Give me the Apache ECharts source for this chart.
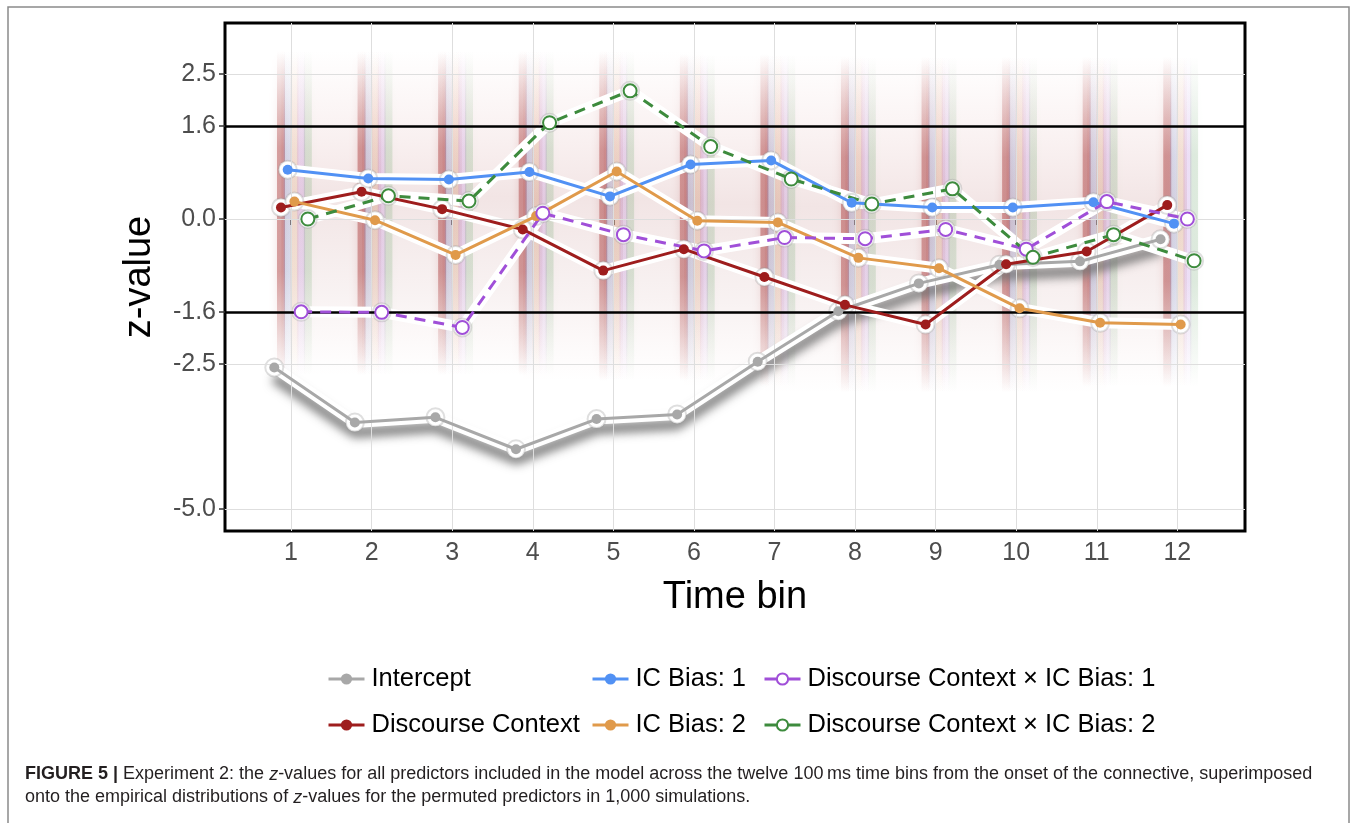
<!DOCTYPE html>
<html>
<head>
<meta charset="utf-8">
<script src="https://cdn.jsdelivr.net/npm/echarts@6/dist/echarts.min.js"></script>
<style>
html, body { margin: 0; padding: 0; background: #fff; }
#main { width: 1357px; height: 823px; }
</style>
</head>
<body>
<div id="main"></div>
<script>
// time bins and z-values
const bins = [1, 2, 3, 4, 5, 6, 7, 8, 9, 10, 11, 12]
const intercept = [-2.56, -3.51, -3.42, -3.97, -3.45, -3.37, -2.46, -1.59, -1.11, -0.79, -0.73, -0.35]
const discourseContext = [0.2, 0.47, 0.17, -0.18, -0.89, -0.52, -1.0, -1.48, -1.82, -0.78, -0.56, 0.24]
const icBias1 = [0.85, 0.7, 0.68, 0.81, 0.39, 0.94, 1.01, 0.28, 0.2, 0.2, 0.29, -0.08]
const icBias2 = [0.3, -0.02, -0.62, 0.05, 0.82, -0.03, -0.06, -0.67, -0.85, -1.54, -1.79, -1.82]
const dcXic1 = [-1.6, -1.61, -1.87, 0.1, -0.27, -0.55, -0.32, -0.34, -0.18, -0.52, 0.3, 0.0]
const dcXic2 = [0.0, 0.4, 0.31, 1.66, 2.21, 1.25, 0.69, 0.26, 0.52, -0.66, -0.27, -0.72]

// rough spread of the permuted z-values in each bin
const simHigh = [2.9, 2.9, 2.9, 2.9, 2.9, 2.85, 2.85, 2.8, 2.8, 2.8, 2.8, 2.8]
const simLow = [-2.7, -2.7, -2.7, -2.7, -2.8, -2.8, -2.9, -3.0, -3.0, -3.0, -2.9, -2.9]

const yTicks = [-5, -2.5, -1.6, 0, 1.6, 2.5]
const critical = [-1.6, 1.6]

const predictors = [
  { name: 'Intercept', values: intercept, color: '#a8a8a8', dashed: false },
  { name: 'Discourse Context', values: discourseContext, color: '#9e1d1d', dashed: false },
  { name: 'IC Bias: 1', values: icBias1, color: '#5191f4', dashed: false },
  { name: 'IC Bias: 2', values: icBias2, color: '#e09a4b', dashed: false },
  { name: 'Discourse Context × IC Bias: 1', values: dcXic1, color: '#a04fd8', dashed: true },
  { name: 'Discourse Context × IC Bias: 2', values: dcXic2, color: '#3d8b3d', dashed: true }
]

// same as position_dodge(0.5) for six groups
const dodge = i => (i - 2.5) * 0.5 / 6

const font = 'Liberation Sans, Arial, sans-serif'
const chart = echarts.init(document.getElementById('main'))

const series = []

// light grid
series.push({
  type: 'line',
  data: [],
  silent: true,
  z: 1,
  markLine: {
    silent: true,
    symbol: 'none',
    label: { show: false },
    lineStyle: { color: '#dedede', width: 1, type: 'solid' },
    data: bins.map(b => ({ xAxis: b })).concat(
      yTicks.filter(v => critical.indexOf(v) < 0).map(v => ({ yAxis: v })))
  }
})

// simulation haze: broad pale band + soft stripes per predictor
const hazeData = []
bins.forEach((b, k) => {
  predictors.forEach((p, i) => {
    if (i === 0) return
    hazeData.push([b + dodge(i), simLow[k], simHigh[k], i])
  })
})
series.push({
  type: 'custom',
  silent: true,
  z: 2,
  data: bins.slice(0, 11).map((b, k) => [b, simLow[k], simHigh[k], k]),
  renderItem: function (params, api) {
    const x0 = api.value(0)
    const k = api.value(3)
    const a = api.coord([x0 - 0.12, Math.max(simHigh[k], simHigh[k + 1])])
    const c = api.coord([x0 + 1.12, Math.min(simLow[k], simLow[k + 1])])
    return {
      type: 'rect',
      shape: { x: a[0], y: a[1], width: c[0] - a[0], height: c[1] - a[1] },
      style: {
        fill: new echarts.graphic.LinearGradient(0, 0, 0, 1, [
          { offset: 0, color: 'rgba(220,150,150,0)' },
          { offset: 0.2, color: 'rgba(215,150,150,0.10)' },
          { offset: 0.45, color: 'rgba(195,135,135,0.22)' },
          { offset: 0.75, color: 'rgba(200,150,150,0.12)' },
          { offset: 1, color: 'rgba(220,160,160,0)' }
        ])
      }
    }
  }
})
series.push({
  type: 'custom',
  silent: true,
  z: 2,
  data: hazeData,
  renderItem: function (params, api) {
    const top = api.coord([api.value(0), api.value(2)])
    const bot = api.coord([api.value(0), api.value(1)])
    const p = predictors[api.value(3)]
    const strong = p.name === 'Discourse Context'
    const c = echarts.color.modifyAlpha(p.color, strong ? 0.38 : 0.16)
    const c0 = echarts.color.modifyAlpha(p.color, 0)
    return {
      type: 'rect',
      shape: { x: top[0] - 4, y: top[1], width: 8, height: bot[1] - top[1] },
      style: {
        fill: new echarts.graphic.LinearGradient(0, 0, 0, 1, [
          { offset: 0, color: c0 },
          { offset: 0.3, color: c },
          { offset: 0.68, color: c },
          { offset: 1, color: c0 }
        ]),
        shadowColor: c,
        shadowBlur: 8
      }
    }
  }
})

// critical lines at +-1.6
series.push({
  type: 'line',
  data: [],
  silent: true,
  z: 3,
  markLine: {
    silent: true,
    symbol: 'none',
    label: { show: false },
    lineStyle: { color: '#000', width: 2.5, type: 'solid' },
    data: critical.map(v => ({ yAxis: v }))
  }
})

// white halos underneath
predictors.forEach((p, i) => {
  const isIntercept = i === 0
  series.push({
    name: p.name + ' halo',
    type: 'line',
    silent: true,
    z: 4,
    data: p.values.map((v, k) => [bins[k] + dodge(i), v]),
    symbol: 'circle',
    symbolSize: 18,
    itemStyle: { color: '#fff', borderColor: 'rgba(150,150,150,0.3)', borderWidth: 2 },
    lineStyle: isIntercept
      ? { color: '#fff', width: 11, shadowColor: 'rgba(110,110,110,0.85)', shadowBlur: 10, shadowOffsetY: 10 }
      : { color: '#fff', width: 11 },
    emphasis: { disabled: true }
  })
})

// the predictors themselves
predictors.forEach((p, i) => {
  series.push({
    name: p.name,
    type: 'line',
    z: 5,
    data: p.values.map((v, k) => [bins[k] + dodge(i), v]),
    symbol: p.dashed ? 'emptyCircle' : 'circle',
    symbolSize: p.dashed ? 13 : 10,
    showAllSymbol: true,
    itemStyle: p.dashed
      ? { color: p.color, borderColor: p.color, borderWidth: 2 }
      : { color: p.color },
    lineStyle: { color: p.color, width: 3, type: p.dashed ? [11, 8] : 'solid' },
    emphasis: { disabled: true }
  })
})

function legendCol (names, left) {
  return {
    data: names,
    orient: 'vertical',
    left: left,
    top: 661,
    itemGap: 20,
    itemWidth: 36,
    itemHeight: 14,
    selectedMode: false,
    lineStyle: { type: 'solid', width: 3 },
    textStyle: { fontSize: 25.5, color: '#000', fontFamily: font, padding: [0, 0, 0, 2] }
  }
}

chart.setOption({
  animation: false,
  backgroundColor: '#fff',
  grid: {
    left: 225, top: 23, right: 112, bottom: 292,
    show: true, borderColor: '#000', borderWidth: 3, backgroundColor: 'transparent'
  },
  xAxis: {
    type: 'value',
    min: 0.18,
    max: 12.84,
    name: 'Time bin',
    nameLocation: 'middle',
    nameGap: 48,
    nameTextStyle: { fontSize: 38, color: '#000', fontFamily: font },
    axisLine: { show: false },
    axisTick: { show: true, customValues: bins, length: 6, lineStyle: { color: '#333', width: 1.5 } },
    axisLabel: { customValues: bins, fontSize: 25, color: '#4d4d4d', fontFamily: font, margin: 10 },
    splitLine: { show: false }
  },
  yAxis: {
    type: 'value',
    min: -5.38,
    max: 3.38,
    name: 'z-value',
    nameLocation: 'middle',
    nameGap: 66,
    nameTextStyle: { fontSize: 38, color: '#000', fontFamily: font },
    axisLine: { show: false },
    axisTick: { show: true, customValues: yTicks, length: 6, lineStyle: { color: '#333', width: 1.5 } },
    axisLabel: {
      customValues: yTicks,
      fontSize: 25,
      color: '#4d4d4d',
      fontFamily: font,
      margin: 9,
      formatter: v => Number(v).toFixed(1)
    },
    splitLine: { show: false }
  },
  legend: [
    legendCol(['Intercept', 'Discourse Context'], 322),
    legendCol(['IC Bias: 1', 'IC Bias: 2'], 586),
    legendCol(['Discourse Context × IC Bias: 1', 'Discourse Context × IC Bias: 2'], 758)
  ],
  graphic: [
    {
      type: 'rect',
      silent: true,
      shape: { x: 8, y: 7, width: 1341, height: 900 },
      style: { fill: 'none', stroke: '#8a8a8a', lineWidth: 1.5 }
    },
    {
      type: 'text',
      left: 25,
      top: 763,
      silent: true,
      style: {
        text: '{b|FIGURE 5 |} Experiment 2: the {i|z}-values for all predictors included in the model across the twelve 100\u2009ms time bins from the onset of the connective, superimposed\nonto the empirical distributions of {i|z}-values for the permuted predictors in 1,000 simulations.',
        fontSize: 18,
        fontFamily: font,
        fill: '#231f20',
        lineHeight: 23,
        rich: {
          b: { fontSize: 18, fontFamily: font, fontWeight: 'bold', fill: '#231f20', lineHeight: 23 },
          i: { fontSize: 18, fontFamily: font, fontStyle: 'italic', fill: '#231f20', lineHeight: 23 }
        }
      }
    }
  ],
  series: series
})
</script>
</body>
</html>
